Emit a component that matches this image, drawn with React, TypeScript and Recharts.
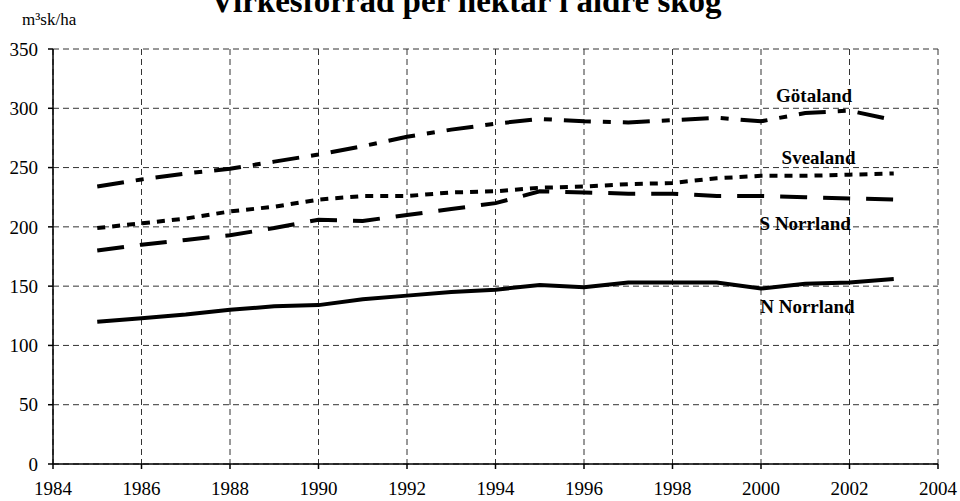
import React from 'react';
import {
  LineChart,
  Line,
  XAxis,
  YAxis,
  CartesianGrid,
  ReferenceDot
} from 'recharts';

const years = [
  1985, 1986, 1987, 1988, 1989, 1990, 1991, 1992, 1993, 1994, 1995, 1996, 1997,
  1998, 1999, 2000, 2001, 2002, 2003
];
const gotaland = [
  234, 240, 245, 249, 255, 261, 268, 276, 282, 287, 291, 289, 288, 290, 292,
  289, 296, 298, 290
];
const svealand = [
  199, 203, 207, 213, 217, 223, 226, 226, 229, 230, 233, 234, 236, 237, 241,
  243, 243, 244, 245
];
const sNorrland = [
  180, 185, 189, 193, 199, 206, 205, 210, 215, 220, 230, 229, 228, 228, 226,
  226, 225, 224, 223
];
const nNorrland = [
  120, 123, 126, 130, 133, 134, 139, 142, 145, 147, 151, 149, 153, 153, 153,
  148, 152, 153, 156
];
const xTicks = [1984, 1986, 1988, 1990, 1992, 1994, 1996, 1998, 2000, 2002, 2004];
const yTicks = [0, 50, 100, 150, 200, 250, 300, 350];

const data = years.map((year, i) => ({
  year,
  gotaland: gotaland[i],
  svealand: svealand[i],
  sNorrland: sNorrland[i],
  nNorrland: nNorrland[i]
}));

// series name labels, placed in data coordinates
const seriesLabels = [
  { text: 'Götaland', x: 2001.2, y: 311 },
  { text: 'Svealand', x: 2001.3, y: 259 },
  { text: 'S Norrland', x: 2001.0, y: 203 },
  { text: 'N Norrland', x: 2001.05, y: 133 }
];

const FONT = 'Liberation Serif';
const tickStyle = { fontFamily: FONT, fontSize: 19, fill: '#000' };

export default function App() {
  return (
    <div
      style={{
        position: 'relative',
        width: 960,
        height: 501,
        background: '#fff',
        overflow: 'hidden',
        fontFamily: FONT
      }}
    >
      <style>{`body { margin: 0; } .recharts-cartesian-axis-tick-value { font-family: 'Liberation Serif'; }`}</style>
      <div
        style={{
          position: 'absolute',
          left: 0,
          width: 932,
          top: -19,
          textAlign: 'center',
          fontWeight: 'bold',
          fontSize: 33,
          lineHeight: '40px',
          whiteSpace: 'nowrap'
        }}
      >
        Virkesförråd per hektar i äldre skog
      </div>
      <div
        style={{
          position: 'absolute',
          left: 22,
          top: 10,
          fontSize: 17,
          lineHeight: '20px'
        }}
      >
        m³sk/ha
      </div>
      <div style={{ position: 'absolute', left: 0, top: 0 }}>
        <LineChart
          width={960}
          height={501}
          data={data}
          margin={{ top: 49, right: 22, left: 0, bottom: 0 }}
          style={{ fontFamily: FONT }}
        >
          <CartesianGrid stroke="#333" strokeWidth={1} strokeDasharray="6 4" />
          <XAxis
            dataKey="year"
            type="number"
            domain={[1984, 2004]}
            ticks={xTicks}
            height={37}
            interval={0}
            stroke="#000"
            strokeWidth={1.5}
            tickSize={5}
            tickMargin={13}
            fontFamily={FONT}
            tick={tickStyle}
          />
          <YAxis
            type="number"
            domain={[0, 350]}
            ticks={yTicks}
            width={53}
            interval={0}
            stroke="#000"
            strokeWidth={1.5}
            tickSize={5}
            tickMargin={10}
            fontFamily={FONT}
            tick={tickStyle}
          />
          <Line
            dataKey="gotaland"
            type="linear"
            stroke="#000"
            strokeWidth={4}
            strokeDasharray="27 12 8 12"
            dot={false}
            isAnimationActive={false}
          />
          <Line
            dataKey="svealand"
            type="linear"
            stroke="#000"
            strokeWidth={4}
            strokeDasharray="8 7"
            dot={false}
            isAnimationActive={false}
          />
          <Line
            dataKey="sNorrland"
            type="linear"
            stroke="#000"
            strokeWidth={4}
            strokeDasharray="27 16"
            dot={false}
            isAnimationActive={false}
          />
          <Line
            dataKey="nNorrland"
            type="linear"
            stroke="#000"
            strokeWidth={4}
            dot={false}
            isAnimationActive={false}
          />
          {seriesLabels.map((l) => (
            <ReferenceDot
              key={l.text}
              x={l.x}
              y={l.y}
              r={0}
              stroke="none"
              fill="none"
              label={{
                value: l.text,
                position: 'center',
                fontFamily: FONT,
                fontWeight: 'bold',
                fontSize: 19,
                fill: '#000'
              }}
            />
          ))}
        </LineChart>
      </div>
    </div>
  );
}
